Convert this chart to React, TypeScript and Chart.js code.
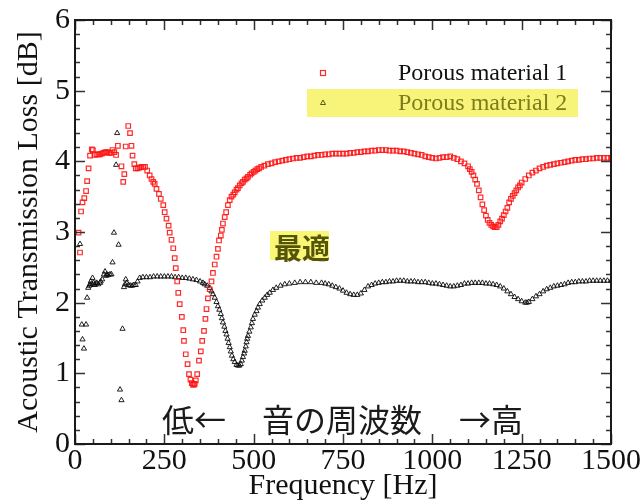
import React, { useEffect, useRef } from "react";
import { Chart, registerables } from "chart.js";
Chart.register(...registerables);

// ---------- data ----------
const material1Freq = [
  10, 14, 17, 21, 26, 31, 34, 38, 42, 47,
  50, 55, 60, 65, 70, 75, 80, 85, 90, 95,
  100, 105, 110, 115, 120, 130, 135, 138, 142, 149,
  154, 158, 161, 166, 170, 175, 180, 186, 191, 196,
  202, 209, 214, 219, 223, 228, 235, 240, 247, 251,
  256, 262, 265, 270, 275, 279, 282, 286, 289, 293,
  299, 303, 305, 310, 315, 319, 323, 327, 330, 333,
  335, 338, 342, 347, 352, 356, 361, 365, 368, 372,
  377, 382, 386, 391, 396, 400, 403, 408, 411, 414,
  419, 423, 428, 433, 438, 443, 447, 452, 456, 461,
  466, 470, 475, 480, 484, 490, 494, 500, 505, 510,
  515, 521, 530, 540, 550, 560, 570, 580, 590, 600,
  610, 620, 630, 640, 650, 660, 670, 680, 690, 700,
  710, 720, 730, 740, 750, 760, 770, 780, 790, 800,
  810, 820, 830, 840, 850, 860, 870, 880, 890, 900,
  910, 920, 930, 940, 950, 960, 970, 980, 990, 1000,
  1010, 1020, 1030, 1040, 1050, 1060, 1070, 1080, 1090, 1100,
  1105, 1110, 1115, 1120, 1125, 1130, 1135, 1140, 1145, 1150,
  1155, 1160, 1165, 1170, 1175, 1180, 1185, 1190, 1195, 1200,
  1205, 1210, 1215, 1220, 1225, 1230, 1235, 1240, 1245, 1250,
  1260, 1270, 1280, 1290, 1300, 1310, 1320, 1330, 1340, 1350,
  1360, 1370, 1380, 1390, 1400, 1410, 1420, 1430, 1440, 1450,
  1460, 1470, 1480, 1490, 1500,
];
const material1Loss = [
  2.99, 2.71, 3.29, 3.42, 3.48, 3.58, 3.72, 3.90, 4.08, 4.17,
  4.16, 4.09, 4.10, 4.10, 4.10, 4.11, 4.12, 4.13, 4.13, 4.12,
  4.12, 4.16, 4.13, 4.09, 4.22, 3.93, 3.71, 3.82, 4.21, 4.50,
  4.40, 4.22, 4.08, 3.96, 3.90, 3.90, 3.91, 3.92, 3.92, 3.92,
  3.87, 3.80, 3.75, 3.71, 3.68, 3.61, 3.54, 3.47, 3.38, 3.28,
  3.19, 3.09, 2.99, 2.89, 2.77, 2.63, 2.49, 2.30, 2.14, 1.98,
  1.80, 1.61, 1.46, 1.27, 1.13, 0.99, 0.91, 0.86, 0.84, 0.84,
  0.85, 0.90, 0.99, 1.18, 1.31, 1.46, 1.60, 1.77, 1.91, 2.06,
  2.19, 2.30, 2.42, 2.54, 2.65, 2.76, 2.88, 2.95, 3.03, 3.12,
  3.21, 3.28, 3.38, 3.45, 3.50, 3.53, 3.56, 3.60, 3.62, 3.66,
  3.69, 3.71, 3.74, 3.76, 3.78, 3.81, 3.83, 3.85, 3.87, 3.89,
  3.90, 3.92, 3.94, 3.96, 3.97, 3.99, 4.00, 4.01, 4.02, 4.03,
  4.04, 4.05, 4.05, 4.06, 4.07, 4.07, 4.08, 4.09, 4.09, 4.10,
  4.10, 4.11, 4.11, 4.11, 4.11, 4.11, 4.12, 4.12, 4.13, 4.13,
  4.14, 4.14, 4.15, 4.15, 4.16, 4.16, 4.16, 4.15, 4.15, 4.15,
  4.14, 4.14, 4.13, 4.12, 4.11, 4.10, 4.09, 4.07, 4.06, 4.05,
  4.04, 4.05, 4.06, 4.06, 4.07, 4.05, 4.03, 4.00, 3.97, 3.93,
  3.89, 3.85, 3.80, 3.74, 3.68, 3.59, 3.49, 3.39, 3.31, 3.23,
  3.17, 3.13, 3.10, 3.08, 3.07, 3.07, 3.10, 3.15, 3.19, 3.24,
  3.29, 3.34, 3.42, 3.47, 3.51, 3.55, 3.59, 3.63, 3.66, 3.70,
  3.75, 3.80, 3.84, 3.87, 3.90, 3.92, 3.94, 3.95, 3.96, 3.97,
  3.98, 3.99, 4.00, 4.01, 4.02, 4.02, 4.03, 4.03, 4.04, 4.04,
  4.05, 4.05, 4.05, 4.05, 4.05,
];

const material2Freq = [
  14, 19, 21, 25, 31, 34, 37, 40, 42, 44,
  47, 49, 52, 55, 58, 61, 65, 70, 72, 76,
  81, 84, 87, 89, 93, 98, 102, 105, 109, 115,
  118, 122, 126, 130, 133, 137, 140, 142, 145, 150,
  155, 160, 165, 170, 175, 181, 190, 200, 210, 220,
  230, 240, 250, 260, 270, 280, 290, 300, 310, 320,
  330, 340, 350, 358, 363, 370, 377, 382, 386, 391,
  396, 400, 404, 408, 411, 414, 418, 421, 424, 427,
  430, 433, 436, 439, 443, 447, 452, 456, 460, 464,
  467, 470, 473, 475, 478, 480, 482, 484, 488, 492,
  495, 498, 503, 508, 512, 517, 524, 531, 538, 545,
  554, 563, 575, 587, 600, 615, 630, 645, 660, 675,
  690, 700, 710, 720, 730, 740, 750, 760, 770, 780,
  790, 800, 810, 820, 830, 840, 850, 860, 870, 880,
  890, 900, 910, 920, 930, 940, 950, 960, 970, 980,
  990, 1000, 1010, 1020, 1030, 1040, 1050, 1060, 1070, 1080,
  1090, 1100, 1110, 1120, 1130, 1140, 1150, 1160, 1170, 1180,
  1190, 1200, 1210, 1220, 1230, 1240, 1250, 1260, 1265, 1270,
  1280, 1290, 1300, 1310, 1320, 1330, 1340, 1350, 1360, 1370,
  1380, 1390, 1400, 1410, 1420, 1430, 1440, 1450, 1460, 1470,
  1480, 1490, 1500,
];
const material2Loss = [
  2.83, 1.69, 1.48, 1.35, 1.69, 2.07, 2.21, 2.24, 2.26, 2.30,
  2.26, 2.35, 2.28, 2.25, 2.27, 2.28, 2.26, 2.28, 2.30, 2.33,
  2.40, 2.44, 2.38, 2.40, 2.39, 2.40, 2.40, 2.57, 2.99, 3.95,
  4.40, 2.82, 0.77, 0.62, 1.63, 2.22, 2.26, 2.33, 2.28, 2.25,
  2.24, 2.24, 2.25, 2.25, 2.30, 2.35, 2.36, 2.36, 2.36, 2.37,
  2.37, 2.37, 2.37, 2.37, 2.37, 2.36, 2.36, 2.35, 2.35, 2.34,
  2.33, 2.32, 2.30, 2.28, 2.26, 2.24, 2.21, 2.16, 2.12, 2.07,
  2.01, 1.95, 1.90, 1.84, 1.78, 1.72, 1.66, 1.60, 1.55, 1.49,
  1.43, 1.37, 1.31, 1.25, 1.20, 1.16, 1.12, 1.11, 1.11, 1.13,
  1.18, 1.23, 1.28, 1.32, 1.38, 1.44, 1.49, 1.53, 1.59, 1.65,
  1.71, 1.77, 1.83, 1.88, 1.93, 1.98, 2.03, 2.07, 2.11, 2.14,
  2.18, 2.21, 2.24, 2.26, 2.27, 2.28, 2.29, 2.29, 2.29, 2.28,
  2.28, 2.27, 2.26, 2.24, 2.22, 2.20, 2.17, 2.14, 2.12, 2.11,
  2.11, 2.13, 2.18, 2.23, 2.25, 2.27, 2.28, 2.29, 2.29, 2.30,
  2.30, 2.31, 2.31, 2.31, 2.30, 2.30, 2.30, 2.29, 2.29, 2.29,
  2.28, 2.27, 2.27, 2.26, 2.25, 2.24, 2.23, 2.23, 2.24, 2.25,
  2.27, 2.27, 2.28, 2.28, 2.28, 2.28, 2.27, 2.27, 2.26, 2.25,
  2.23, 2.20, 2.16, 2.12, 2.08, 2.05, 2.02, 2.00, 2.00, 2.01,
  2.05, 2.09, 2.12, 2.16, 2.19, 2.21, 2.23, 2.24, 2.25, 2.26,
  2.28, 2.29, 2.29, 2.30, 2.30, 2.30, 2.31, 2.31, 2.31, 2.31,
  2.31, 2.31, 2.31,
];

const seriesNames = ["Porous material 1", "Porous material 2"];
const xTitle = "Frequency [Hz]";
const yTitle = "Acoustic Transmission Loss [dB]";
const xMajorStep = 250;
const xMinorStep = 50;
const yMajorStep = 1;
const yMinorStep = 0.2;
const xRange = [0, 1500];
const yRange = [0, 6];
const bestLabel = "最適";
const freqNote = ["低←", "音の周波数", "→高"];

const SERIF = '"Liberation Serif", "Times New Roman", serif';
const CJK = '"Noto Sans CJK JP", "Noto Sans CJK SC", sans-serif';

const framePlugin = {
  id: "frameAndNotes",
  afterDatasetsDraw(chart: any) {
    const ctx: CanvasRenderingContext2D = chart.ctx;
    const { left, right, top, bottom } = chart.chartArea;
    const xs = chart.scales.x;
    const ys = chart.scales.y;
    ctx.save();
    // inward ticks
    ctx.strokeStyle = "#333";
    ctx.lineWidth = 1.5;
    ctx.beginPath();
    const nx = Math.round((xRange[1] - xRange[0]) / xMinorStep);
    for (let i = 0; i <= nx; i++) {
      const v = xRange[0] + i * xMinorStep;
      const px = Math.round(xs.getPixelForValue(v)) + 0.5;
      const len = Math.abs(v % xMajorStep) < 1e-6 ? 10 : 5;
      ctx.moveTo(px, bottom);
      ctx.lineTo(px, bottom - len);
      ctx.moveTo(px, top);
      ctx.lineTo(px, top + len);
    }
    const ny = Math.round((yRange[1] - yRange[0]) / yMinorStep);
    for (let i = 0; i <= ny; i++) {
      const v = yRange[0] + i * yMinorStep;
      const py = Math.round(ys.getPixelForValue(v)) + 0.5;
      const major = i % Math.round(yMajorStep / yMinorStep) === 0;
      const len = major ? 10 : 5;
      ctx.moveTo(left, py);
      ctx.lineTo(left + len, py);
      ctx.moveTo(right, py);
      ctx.lineTo(right - len, py);
    }
    ctx.stroke();
    // frame
    ctx.strokeStyle = "#1a1a1a";
    ctx.lineWidth = 2;
    ctx.strokeRect(left, top, right - left, bottom - top);

    // legend
    const ds0 = chart.data.datasets[0];
    const ds1 = chart.data.datasets[1];
    ctx.fillStyle = "rgb(248,244,122)";
    ctx.fillRect(307, 89, 271, 28);
    ctx.lineWidth = 1.2;
    ctx.strokeStyle = ds0.borderColor;
    ctx.strokeRect(320.5, 70.5, 5, 5);
    ctx.strokeStyle = "#5a5a10";
    ctx.lineWidth = 1;
    ctx.beginPath();
    ctx.moveTo(323, 100);
    ctx.lineTo(325.5, 104.5);
    ctx.lineTo(320.5, 104.5);
    ctx.closePath();
    ctx.stroke();
    ctx.font = `24px ${SERIF}`;
    ctx.textBaseline = "middle";
    ctx.textAlign = "left";
    ctx.fillStyle = "#111";
    ctx.fillText(ds0.label, 398, 74);
    ctx.fillStyle = "#7d7d1c";
    ctx.fillText(ds1.label, 398, 104);

    // 最適 annotation
    ctx.fillStyle = "rgb(250,246,118)";
    ctx.fillRect(270, 231, 59, 29);
    ctx.fillStyle = "#55550a";
    ctx.font = `bold 28px ${CJK}`;
    ctx.fillText(bestLabel, 274, 248);

    // frequency note
    ctx.fillStyle = "#1a1a1a";
    ctx.font = `32px ${CJK}`;
    ctx.fillText(freqNote[0], 162, 420);
    ctx.fillText(freqNote[1], 262, 420);
    ctx.fillText(freqNote[2], 459, 420);
    ctx.restore();
  },
};

export default function App() {
  const canvasRef = useRef<HTMLCanvasElement | null>(null);
  useEffect(() => {
    const canvas = canvasRef.current;
    if (!canvas) return;
    const chart = new Chart(canvas, {
      type: "scatter",
      data: {
        datasets: [
          {
            label: seriesNames[0],
            data: material1Freq.map((f, i) => ({ x: f, y: material1Loss[i] })),
            pointStyle: "rect",
            pointRadius: 3.2,
            borderWidth: 1.2,
            borderColor: "rgba(255,20,20,0.9)",
            backgroundColor: "rgba(0,0,0,0)",
          },
          {
            label: seriesNames[1],
            data: material2Freq.map((f, i) => ({ x: f, y: material2Loss[i] })),
            pointStyle: "triangle",
            pointRadius: 3,
            borderWidth: 1,
            borderColor: "rgba(10,10,10,0.9)",
            backgroundColor: "rgba(0,0,0,0)",
          },
        ],
      },
      options: {
        animation: false,
        responsive: false,
        maintainAspectRatio: false,
        layout: { padding: { left: 0, right: 31, top: 16, bottom: 0 } },
        plugins: { legend: { display: false }, tooltip: { enabled: false } },
        scales: {
          x: {
            type: "linear",
            min: xRange[0],
            max: xRange[1],
            afterFit: (s: any) => {
              s.height = 60;
            },
            afterBuildTicks: (s: any) => {
              const t = [];
              for (let v = xRange[0]; v <= xRange[1]; v += xMajorStep) t.push({ value: v });
              s.ticks = t;
            },
            ticks: {
              font: { family: SERIF, size: 30, lineHeight: 1 },
              color: "#111",
              padding: 2,
              maxRotation: 0,
              autoSkip: false,
              callback: (v: any) => String(v),
            },
            grid: { display: false, drawTicks: false },
            border: { display: false },
            title: {
              display: true,
              text: xTitle,
              color: "#111",
              font: { family: SERIF, size: 30, lineHeight: 1.2 },
              padding: { top: 0, bottom: 0 },
            },
          },
          y: {
            type: "linear",
            min: yRange[0],
            max: yRange[1],
            afterFit: (s: any) => {
              s.width = 75;
            },
            afterBuildTicks: (s: any) => {
              const t = [];
              for (let v = yRange[0]; v <= yRange[1]; v += yMajorStep) t.push({ value: v });
              s.ticks = t;
            },
            ticks: {
              font: { family: SERIF, size: 30, lineHeight: 1 },
              color: "#111",
              padding: 5,
              autoSkip: false,
              callback: (v: any) => String(v),
            },
            grid: { display: false, drawTicks: false },
            border: { display: false },
            title: {
              display: true,
              text: yTitle,
              color: "#111",
              font: { family: SERIF, size: 30, lineHeight: 1.2 },
              padding: { top: 11, bottom: 0 },
            },
          },
        },
      },
      plugins: [framePlugin],
    });
    return () => chart.destroy();
  }, []);
  return (
    <div style={{ position: "fixed", left: 0, top: 0, width: 643, height: 504, background: "#fff" }}>
      <canvas ref={canvasRef} width={643} height={504} style={{ width: 643, height: 504, display: "block" }} />
    </div>
  );
}
